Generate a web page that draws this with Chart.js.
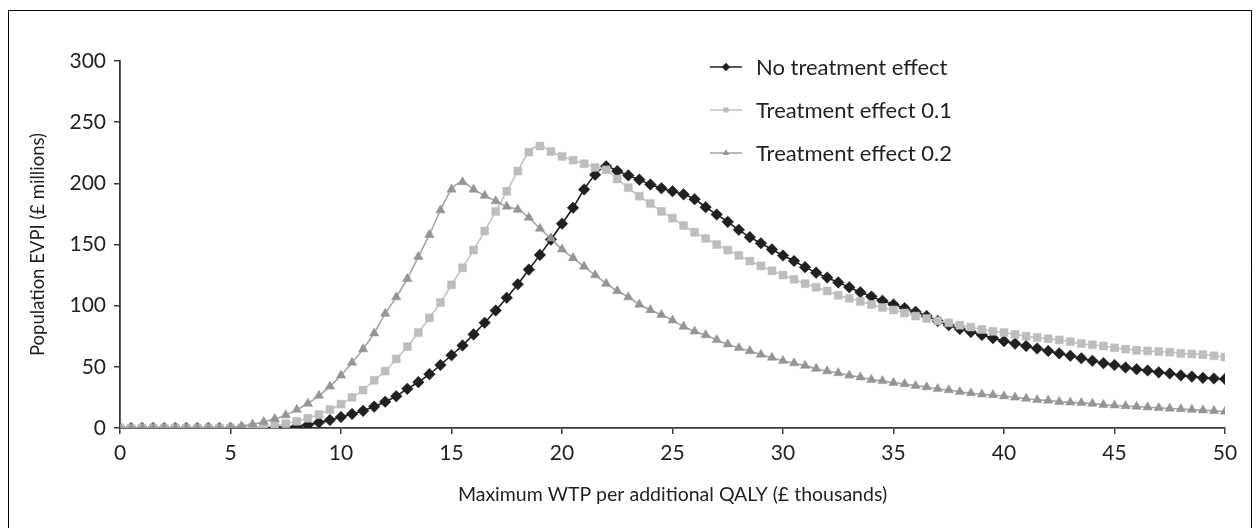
<!DOCTYPE html>
<html>
<head>
<meta charset="utf-8">
<title>Population EVPI</title>
<script src="https://cdn.jsdelivr.net/npm/chart.js@4.4.1/dist/chart.umd.min.js"></script>
<style>
  html, body { margin: 0; padding: 0; background: #ffffff; }
  #wrap { width: 1260px; height: 528px; }
</style>
</head>
<body>
<div id="wrap"><canvas id="evpi" width="1260" height="528"></canvas></div>
<script>
// Willingness-to-pay thresholds (£ thousands)
const wtp = [
  0, 0.5, 1, 1.5, 2, 2.5, 3, 3.5, 4, 4.5,
  5, 5.5, 6, 6.5, 7, 7.5, 8, 8.5, 9, 9.5,
  10, 10.5, 11, 11.5, 12, 12.5, 13, 13.5, 14, 14.5,
  15, 15.5, 16, 16.5, 17, 17.5, 18, 18.5, 19, 19.5,
  20, 20.5, 21, 21.5, 22, 22.5, 23, 23.5, 24, 24.5,
  25, 25.5, 26, 26.5, 27, 27.5, 28, 28.5, 29, 29.5,
  30, 30.5, 31, 31.5, 32, 32.5, 33, 33.5, 34, 34.5,
  35, 35.5, 36, 36.5, 37, 37.5, 38, 38.5, 39, 39.5,
  40, 40.5, 41, 41.5, 42, 42.5, 43, 43.5, 44, 44.5,
  45, 45.5, 46, 46.5, 47, 47.5, 48, 48.5, 49, 49.5,
  50
];

// Population EVPI (£ millions)
const noTreatmentEffect = [
  0, 0, 0, 0, 0, 0, 0, 0, 0, 0,
  0, 0, 0, 0, 0.5, 0.5, 1.5, 2.5, 4.5, 6.5,
  9, 11.5, 14, 17.5, 21.5, 26, 32, 37.5, 44, 51.5,
  59.5, 67.5, 76.5, 86, 96, 106.5, 117.5, 129.5, 141.5, 154,
  167, 180, 195, 207, 214, 210, 206.5, 203, 199, 196,
  193.5, 191, 187, 180.5, 174.5, 168.5, 162, 156, 151, 146,
  141, 136.5, 131.5, 127, 123, 119, 115, 111, 107.5, 104,
  101, 98, 95, 91.5, 87.5, 84, 81, 78.5, 76, 73.5,
  71, 69, 67, 65, 63, 61, 59, 57, 55, 53,
  51.5, 49.5, 48, 47, 45.5, 44.5, 43, 42, 41, 40.5,
  40
];

const treatmentEffect01 = [
  0, 0, 0, 0, 0, 0, 0, 0, 0, 0,
  0, 0, 0.5, 1, 2, 3.5, 5.5, 8, 11, 15,
  19.5, 25, 31, 39, 46.5, 56.5, 66.5, 78, 90, 102.5,
  117, 131, 145.5, 161, 177, 193.5, 210, 225.5, 230.5, 226,
  222, 219, 216, 213, 211, 203.5, 196.5, 189.5, 183.5, 177,
  171.5, 165.5, 160, 155, 150, 145.5, 141, 136.5, 132.5, 128.5,
  125, 121.5, 118, 115, 112, 108.5, 106, 103.5, 101, 98.5,
  96.5, 94, 91.5, 89.5, 87.5, 86, 84, 82.5, 80.5, 79,
  78, 76.5, 75, 74, 73, 72, 70.5, 69, 68, 67,
  65.5, 64.5, 63.5, 63, 62.5, 62, 61, 60.5, 60, 59,
  58
];

const treatmentEffect02 = [
  0, 0, 0, 0, 0, 0, 0, 0, 0, 0,
  0.5, 1.5, 3, 5, 7.5, 10.5, 15, 20, 26.5, 34,
  43, 53.5, 64.5, 77.5, 93.5, 107, 122, 140, 158, 178,
  195, 201, 195, 190, 185.5, 181, 178.5, 172, 163, 155,
  146, 139, 132, 125, 118, 112, 107, 101, 96.5, 92.5,
  88, 83, 79, 76, 72, 68.5, 65.5, 63, 60, 57.5,
  55, 53, 51, 48.5, 46.5, 45, 43, 41.5, 39.5, 38.5,
  37, 36, 34.5, 33.5, 32, 31, 29.5, 28.5, 27.5, 27,
  26, 25, 24, 23, 22.5, 21.5, 21, 20.5, 20, 19,
  18.5, 18, 17.5, 17, 16.5, 16, 15.5, 15, 14.5, 14,
  13.5
];

const seriesLabels = ['No treatment effect', 'Treatment effect 0.1', 'Treatment effect 0.2'];
const xTitle = 'Maximum WTP per additional QALY (£ thousands)';
const yTitle = 'Population EVPI (£ millions)';

const ink = '#231f20';
const FONT = 'Lato, "Gill Sans", "Open Sans", sans-serif';

function toPoints(values) {
  return values.map((v, i) => ({ x: wtp[i], y: v }));
}

// Page frame around the figure
const framePlugin = {
  id: 'frame',
  beforeDraw(chart) {
    const ctx = chart.ctx;
    ctx.save();
    ctx.fillStyle = '#ffffff';
    ctx.fillRect(0, 0, chart.width, chart.height);
    ctx.strokeStyle = '#000000';
    ctx.lineWidth = 1;
    ctx.beginPath();
    ctx.moveTo(8.5, chart.height + 2);
    ctx.lineTo(8.5, 10.5);
    ctx.lineTo(1251.5, 10.5);
    ctx.lineTo(1251.5, chart.height + 2);
    ctx.stroke();
    ctx.restore();
  }
};

// Legend drawn inside the plot, top-right
const insetLegend = {
  id: 'insetLegend',
  afterDraw(chart) {
    const ctx = chart.ctx;
    const rows = [67, 110, 153];
    const lineX0 = 710, lineX1 = 742, textX = 756;
    const legendRadius = [4.2, 3.6, 3.8];
    ctx.save();
    chart.data.datasets.forEach((ds, i) => {
      const y = rows[i];
      ctx.strokeStyle = ds.borderColor;
      ctx.lineWidth = 1.5;
      ctx.beginPath();
      ctx.moveTo(lineX0, y);
      ctx.lineTo(lineX1, y);
      ctx.stroke();
      ctx.fillStyle = ds.pointBackgroundColor;
      ctx.strokeStyle = ds.pointBackgroundColor;
      Chart.helpers.drawPoint(ctx, {
        pointStyle: ds.pointStyle,
        radius: legendRadius[i],
        rotation: 0,
        borderWidth: 0
      }, (lineX0 + lineX1) / 2, y);
      ctx.fillStyle = ink;
      ctx.font = '22px ' + FONT;
      ctx.textAlign = 'left';
      ctx.textBaseline = 'middle';
      ctx.fillText(ds.label, textX, y + 1);
    });
    ctx.restore();
  }
};

const ctx = document.getElementById('evpi').getContext('2d');
new Chart(ctx, {
  type: 'line',
  data: {
    datasets: [
      {
        label: seriesLabels[0],
        data: toPoints(noTreatmentEffect),
        borderColor: ink,
        backgroundColor: ink,
        pointBackgroundColor: ink,
        pointBorderColor: ink,
        pointStyle: 'rectRot',
        pointRadius: 5.8,
        pointBorderWidth: 0.5,
        borderWidth: 1.6,
        order: 3
      },
      {
        label: seriesLabels[1],
        data: toPoints(treatmentEffect01),
        borderColor: '#c2c3c5',
        backgroundColor: '#bbbdbf',
        pointBackgroundColor: '#bbbdbf',
        pointBorderColor: '#bbbdbf',
        pointStyle: 'rect',
        pointRadius: 5.6,
        pointBorderWidth: 0.5,
        borderWidth: 1.6,
        order: 2
      },
      {
        label: seriesLabels[2],
        data: toPoints(treatmentEffect02),
        borderColor: '#a3a5a8',
        backgroundColor: '#939598',
        pointBackgroundColor: '#939598',
        pointBorderColor: '#939598',
        pointStyle: 'triangle',
        pointRadius: 5.4,
        pointBorderWidth: 0.5,
        borderWidth: 1.6,
        order: 1
      }
    ]
  },
  options: {
    responsive: false,
    animation: false,
    devicePixelRatio: 1,
    layout: { padding: { left: 0, right: 35, top: 61, bottom: 0 } },
    plugins: {
      legend: { display: false },
      tooltip: { enabled: false }
    },
    elements: { line: { cubicInterpolationMode: 'monotone' } },
    scales: {
      x: {
        type: 'linear',
        min: 0,
        max: 50,
        afterFit(scale) { scale.height = 100; },
        ticks: {
          stepSize: 5,
          color: ink,
          padding: 7,
          maxRotation: 0,
          font: { family: FONT, size: 21 }
        },
        grid: {
          drawOnChartArea: false,
          drawTicks: true,
          tickLength: 6,
          color: '#3a3a3a',
          lineWidth: 1.5
        },
        border: { display: true, color: '#3a3a3a', width: 1.8 },
        title: {
          display: true,
          text: xTitle,
          color: ink,
          font: { family: FONT, size: 19.5 },
          padding: { top: 0, bottom: 22 }
        }
      },
      y: {
        type: 'linear',
        min: 0,
        max: 300,
        afterFit(scale) { scale.width = 120; },
        ticks: {
          stepSize: 50,
          color: ink,
          padding: 8,
          font: { family: FONT, size: 21 }
        },
        grid: {
          drawOnChartArea: false,
          drawTicks: true,
          tickLength: 6,
          color: '#3a3a3a',
          lineWidth: 1.5
        },
        border: { display: true, color: '#3a3a3a', width: 1.8 },
        title: {
          display: true,
          text: yTitle,
          color: ink,
          font: { family: FONT, size: 18.5 },
          padding: { top: 27, bottom: 0 }
        }
      }
    }
  },
  plugins: [framePlugin, insetLegend]
});
</script>
</body>
</html>
